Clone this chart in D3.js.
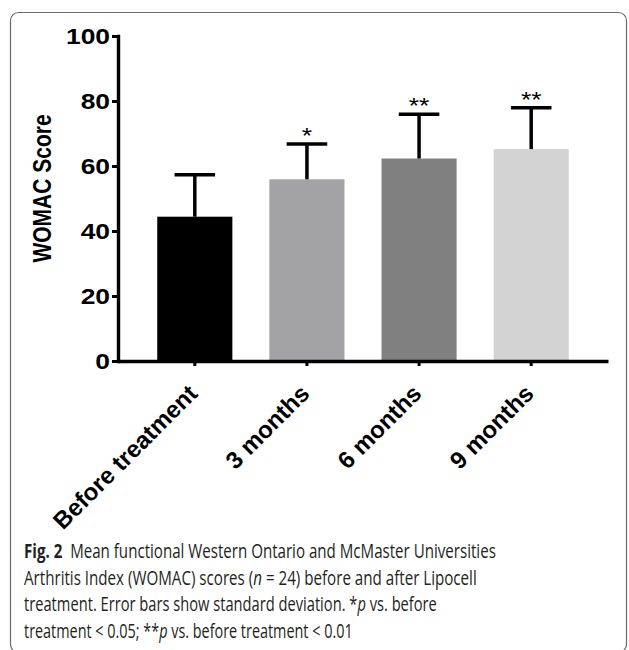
<!DOCTYPE html>
<html>
<head>
<meta charset="utf-8">
<script src="https://cdn.jsdelivr.net/npm/d3@7"></script>
<style>
    body { margin: 0; background: #fff; }
    svg { display: block; }
</style>
</head>
<body>
<div id="chart"></div>
<script>
// data
const categories = ["Before treatment", "3 months", "6 months", "9 months"];
const meanScores = [44.4, 55.9, 62.3, 65.2];
const sdScores = [12.9, 10.9, 13.6, 12.7];
const significance = ["", "*", "**", "**"];
const yTicks = [0, 20, 40, 60, 80, 100];
const captionLines = [
    [["Fig. 2", "b"], ["  Mean functional Western Ontario and McMaster Universities", ""]],
    [["Arthritis Index (WOMAC) scores (", ""], ["n", "i"], [" = 24) before and after Lipocell", ""]],
    [["treatment. Error bars show standard deviation. *", ""], ["p", "i"], [" vs. before", ""]],
    [["treatment < 0.05; **", ""], ["p", "i"], [" vs. before treatment < 0.01", ""]]
];

class BarChart {
    constructor(_config = {}) {
        this.config = {
            parentElement: _config.parentElement,
            containerWidth: 629,
            containerHeight: 650,
            margin: { top: 36, right: 21, bottom: 289, left: 118 },
            colors: ["#000000", "#a3a3a7", "#808080", "#d3d3d3"],
            stretch: 1.2, // the figure is a bit wider than tall in the source
            captionTop: 558,
            captionStep: 26.7,
            captionWidths: [472, 453, 413, 329]
        };
        this.data = categories.map((c, i) => ({
            category: c,
            mean: meanScores[i],
            sd: sdScores[i],
            sig: significance[i]
        }));
        this.initVis();
    }

    initVis() {
        let vis = this;
        let { parentElement, containerWidth, containerHeight, margin } = vis.config;

        vis.svg = d3.select(parentElement)
            .append("svg")
            .attr("width", containerWidth)
            .attr("height", containerHeight);

        // frame round figure
        vis.svg.append("rect")
            .attr("x", 10.5)
            .attr("y", 12.5)
            .attr("width", 616)
            .attr("height", 640)
            .attr("rx", 8)
            .attr("fill", "none")
            .attr("stroke", "#6b6b6b")
            .attr("stroke-width", 1.2);

        vis.x = d3.scaleBand()
            .domain(categories)
            .range([margin.left, containerWidth - margin.right])
            .paddingInner(0.33)
            .paddingOuter(0.35);

        vis.y = d3.scaleLinear()
            .domain([0, 100])
            .range([containerHeight - margin.bottom, margin.top]);

        vis.renderVis();
    }

    renderVis() {
        let vis = this;
        let { data, x, y } = vis;
        let { colors, containerHeight, margin, stretch } = vis.config;
        let base = containerHeight - margin.bottom;
        let font = "Liberation Sans, Arial, sans-serif";

        // bars
        vis.svg.selectAll(".bar")
            .data(data)
            .join("rect")
            .attr("class", "bar")
            .attr("x", d => x(d.category))
            .attr("width", x.bandwidth())
            .attr("y", d => y(d.mean))
            .attr("height", d => base - y(d.mean))
            .attr("fill", (d, i) => colors[i]);

        // error bars (upper only)
        let capHalf = x.bandwidth() * 0.27;
        let err = vis.svg.selectAll(".err")
            .data(data)
            .join("g")
            .attr("class", "err")
            .attr("stroke", "#000")
            .attr("stroke-width", 3.5);

        err.append("line")
            .attr("x1", d => x(d.category) + x.bandwidth() / 2)
            .attr("x2", d => x(d.category) + x.bandwidth() / 2)
            .attr("y1", d => y(d.mean))
            .attr("y2", d => y(d.mean + d.sd));

        err.append("line")
            .attr("x1", d => x(d.category) + x.bandwidth() / 2 - capHalf)
            .attr("x2", d => x(d.category) + x.bandwidth() / 2 + capHalf)
            .attr("y1", d => y(d.mean + d.sd))
            .attr("y2", d => y(d.mean + d.sd));

        // significance stars
        vis.svg.selectAll(".sig")
            .data(data)
            .join("text")
            .attr("class", "sig")
            .attr("transform", d => `translate(${x(d.category) + x.bandwidth() / 2},${y(d.mean + d.sd) - 1}) scale(${stretch},1)`)
            .attr("text-anchor", "middle")
            .attr("font-family", font)
            .attr("font-size", 22)
            .text(d => d.sig);

        // axes
        vis.yAxis = vis.svg.append("g")
            .attr("transform", `translate(${margin.left},0)`)
            .call(d3.axisLeft(y).tickValues(yTicks).tickSize(6).tickSizeOuter(0));

        vis.xAxis = vis.svg.append("g")
            .attr("transform", `translate(0,${base})`)
            .call(d3.axisBottom(x).tickSize(5).tickSizeOuter(0));

        [vis.yAxis, vis.xAxis].forEach(a => {
            a.select(".domain").attr("stroke", "#000").attr("stroke-width", 3.4).attr("stroke-linecap", "square");
            a.selectAll(".tick line").attr("stroke", "#000").attr("stroke-width", 3);
        });
        vis.xAxis.select(".domain").attr("stroke-linecap", "butt");

        vis.yAxis.selectAll(".tick text")
            .attr("font-family", font)
            .attr("font-weight", "bold")
            .attr("font-size", 22)
            .attr("fill", "#000")
            .attr("x", null)
            .attr("transform", `translate(-8,0) scale(${stretch},1)`);

        vis.xAxis.selectAll(".tick text")
            .attr("font-family", font)
            .attr("font-weight", "bold")
            .attr("font-size", 24)
            .attr("fill", "#000")
            .attr("text-anchor", "end")
            .attr("dy", null)
            .attr("y", null)
            .attr("transform", "translate(4,34) rotate(-45)");

        vis.svg.append("text")
            .attr("transform", `translate(51,${(base + margin.top) / 2 - 10}) scale(${stretch},1) rotate(-90)`)
            .attr("text-anchor", "middle")
            .attr("font-family", font)
            .attr("font-weight", "bold")
            .attr("font-size", 21)
            .text("WOMAC Score");

        // caption
        let { captionTop, captionStep, captionWidths } = vis.config;
        captionLines.forEach((line, i) => {
            let t = vis.svg.append("text")
                .attr("font-family", "Open Sans, Noto Sans, sans-serif")
                .attr("font-size", 19.5)
                .attr("fill", "#231f20")
                .attr("xml:space", "preserve");
            line.forEach(([s, st]) => {
                t.append("tspan")
                    .attr("font-weight", st === "b" ? "bold" : null)
                    .attr("font-style", st === "i" ? "italic" : null)
                    .text(s);
            });
            let w = t.node().getComputedTextLength();
            t.attr("transform", `translate(24,${captionTop + i * captionStep}) scale(${captionWidths[i] / w},1)`);
        });
    }
}

new BarChart({ parentElement: "#chart" });
</script>
</body>
</html>
